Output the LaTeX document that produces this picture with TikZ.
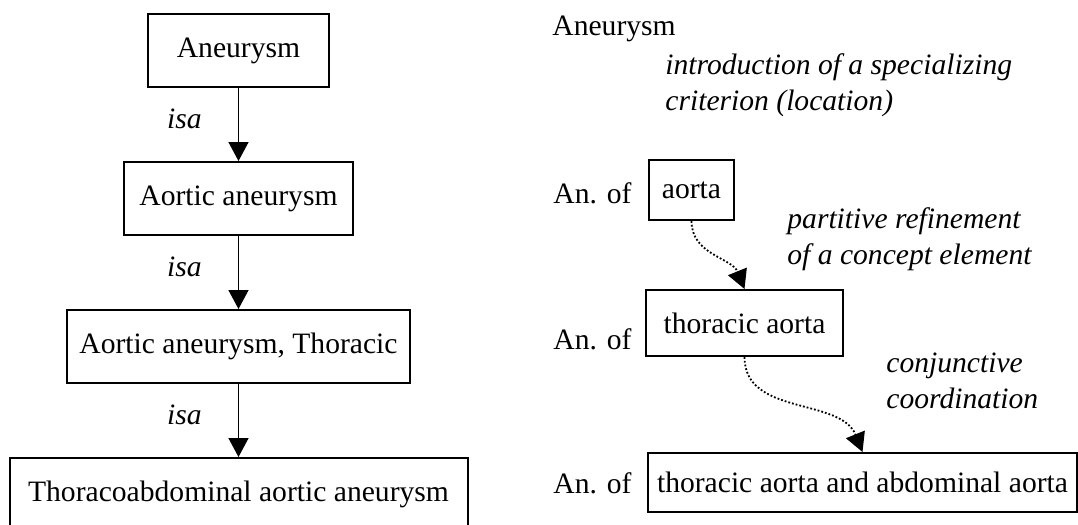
\documentclass[tikz,border=0pt]{standalone}
\usepackage{fontspec}
\setmainfont{Liberation Serif}[ItalicFont={Liberation Serif Italic}]
\usetikzlibrary{arrows.meta}
\usetikzlibrary{positioning}

\begin{document}
\begin{tikzpicture}[x=0.5pt,y=0.5pt,node distance=36.5pt,
	every node/.style={font=\fontsize{14.8}{18}\selectfont},
	main node/.style={draw,line width=1pt,inner sep=0pt,minimum height=36.5pt},
	plain label/.style={anchor=base west,inner sep=0pt},
	note label/.style={font=\fontsize{14.8}{18}\selectfont\itshape,
		align=left,anchor=base west,inner sep=0pt},
	isa edge/.style={-{Triangle[width=10pt,length=9.5pt]},line width=0.75pt},
	refine edge/.style={-{Triangle[width=10pt,length=9.5pt]},line width=0.9pt,
		densely dotted}]
	\useasboundingbox (0,0) rectangle (1078,-525);
	
	% left: isa hierarchy
	\node[main node,minimum width=90.5pt] (A) at (238.5,-50.5) {Aneurysm};
	\node[main node,minimum width=114.5pt] (B) [below=of A] {Aortic aneurysm};
	\node[main node,minimum width=171.5pt] (C) [below=of B] {Aortic aneurysm, Thoracic};
	\node[main node,minimum width=229pt] (D) [below=of C] {Thoracoabdominal aortic aneurysm};
	
	\path[isa edge,every node/.style={font=\fontsize{14.8}{18}\selectfont\itshape,
		left=18pt,yshift=3pt,inner sep=0pt}]
	(A) edge node {isa} (B)
	(B) edge node {isa} (C)
	(C) edge node {isa} (D);
	
	% right: refinement steps (base = last line)
	\node[plain label] (top) at (552,-35) {Aneurysm};
	\node[note label] (intro) at (665,-110) {introduction of a specializing\\criterion (location)};
	
	\node[plain label] (of1) at (553,-203) {An. of};
	\node[main node,minimum width=42.5pt,minimum height=30pt] (aorta) at (691.5,-190) {aorta};
	\node[note label] (part) at (787,-264) {partitive refinement\\of a concept element};
	
	\node[plain label] (of2) at (553,-349) {An. of};
	\node[main node,minimum width=98.5pt,minimum height=33pt] (thor) at (744.5,-323) {thoracic aorta};
	\node[note label] (conj) at (886,-408) {conjunctive\\coordination};
	
	\node[plain label] (of3) at (553,-493) {An. of};
	\node[main node,minimum width=214.5pt,minimum height=29.5pt] (both) at (862.5,-482.5) {thoracic aorta and abdominal aorta};
	
	\path[refine edge]
	(aorta.south) edge[out=-90,in=112] (thor.north)
	(thor.south) edge[out=-90,in=112] (both.north);
\end{tikzpicture}
\end{document}
